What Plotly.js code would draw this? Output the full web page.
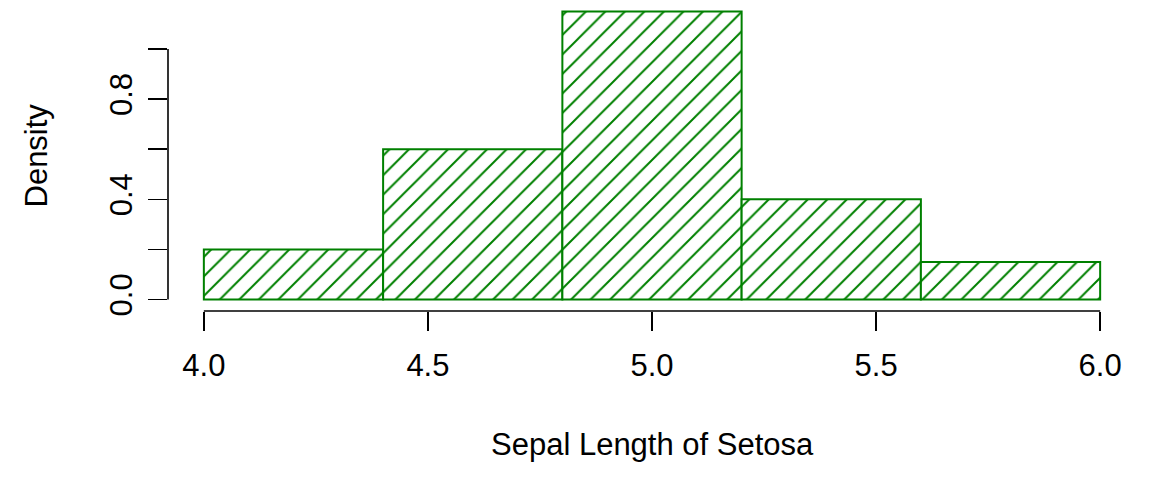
<!DOCTYPE html>
<html>
<head>
<meta charset="utf-8">
<script src="https://cdn.plot.ly/plotly-3.0.1.min.js"></script>
<style>html,body{margin:0;padding:0;background:#fff;}#chart{width:1152px;height:480px;}</style>
</head>
<body>
<div id="chart"></div>
<script>
// Histogram of Sepal Length (Setosa) — density scale
const binStarts = [4.0, 4.4, 4.8, 5.2, 5.6];
const binEnds   = [4.4, 4.8, 5.2, 5.6, 6.0];
const densities = [0.20, 0.60, 1.15, 0.40, 0.15];

const xTickVals = [4.0, 4.5, 5.0, 5.5, 6.0];
const xTickText = ["4.0", "4.5", "5.0", "5.5", "6.0"];
const yTickVals = [0, 0.2, 0.4, 0.6, 0.8, 1.0];
const yTickText = ["0.0", "", "0.4", "", "0.8", ""];

const xTitle = "Sepal Length of Setosa";
const yTitle = "Density";

const green = "#008000";
const FONT = "Liberation Sans, Arial, sans-serif";
const FS = 31;

const mids = binStarts.map((s, i) => (s + binEnds[i]) / 2);
const widths = binStarts.map((s, i) => binEnds[i] - s);

const trace = {
  type: "bar",
  x: mids,
  y: densities,
  width: widths,
  marker: {
    color: "white",
    line: {color: green, width: 2},
    pattern: {shape: "/", fgcolor: green, bgcolor: "white", size: 13.8, solidity: 0.145, fillmode: "replace"}
  },
  hoverinfo: "x+y",
  showlegend: false
};

const layout = {
  width: 1152,
  height: 480,
  margin: {l: 168, r: 16, t: 0, b: 169, pad: 0},
  paper_bgcolor: "white",
  plot_bgcolor: "white",
  font: {family: FONT, size: FS, color: "black"},
  bargap: 0,
  xaxis: {
    range: [3.92, 6.08],
    showgrid: false, zeroline: false, showline: false,
    tickmode: "array", tickvals: xTickVals, ticktext: xTickText,
    ticks: "outside", ticklen: 19, tickwidth: 1.6, tickcolor: "black",
    tickfont: {family: FONT, size: FS, color: "black"},
    ticklabelstandoff: 8
  },
  yaxis: {
    range: [-0.046, 1.196],
    showgrid: false, zeroline: false, showline: false,
    tickmode: "array", tickvals: yTickVals, ticktext: yTickText,
    ticks: "outside", ticklen: 19, tickwidth: 1.6, tickcolor: "black",
    tickangle: -90,
    tickfont: {family: FONT, size: FS, color: "black"},
    ticklabelstandoff: 4
  },
  shapes: [
    {type: "line", xref: "x", yref: "paper", x0: xTickVals[0], x1: xTickVals[xTickVals.length - 1], y0: 0, y1: 0,
     line: {color: "black", width: 1.6}},
    {type: "line", xref: "paper", yref: "y", x0: 0, x1: 0, y0: yTickVals[0], y1: yTickVals[yTickVals.length - 1],
     line: {color: "black", width: 1.6}}
  ],
  annotations: [
    {text: xTitle, xref: "paper", yref: "paper", x: 0.5, y: 0, xanchor: "center", yanchor: "middle",
     yshift: -133, showarrow: false, font: {family: FONT, size: FS, color: "black"}},
    {text: yTitle, xref: "paper", yref: "paper", x: 0, y: 0.5, xanchor: "center", yanchor: "middle",
     xshift: -132, textangle: -90, showarrow: false, font: {family: FONT, size: FS, color: "black"}}
  ]
};

Plotly.newPlot("chart", [trace], layout, {displayModeBar: false, staticPlot: true});
</script>
</body>
</html>
